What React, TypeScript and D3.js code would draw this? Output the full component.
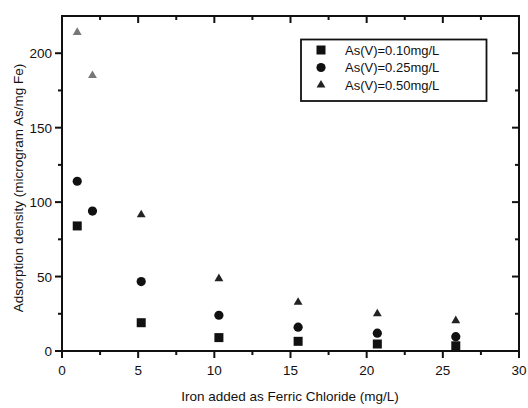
import { useEffect, useRef } from 'react';
import * as d3 from 'd3';

const IRON = [1, 2, 5.2, 10.3, 15.5, 20.7, 25.85];
const AS_010 = [84, null, 19, 9, 6.5, 4.7, 3.5];
const AS_025 = [114, 94, 46.6, 24, 16, 12, 9.6];
const AS_050 = [214, 185, 91.5, 48.6, 32.7, 25, 20.4];
const SERIES_LABELS = ['As(V)=0.10mg/L', 'As(V)=0.25mg/L', 'As(V)=0.50mg/L'];
const X_TICKS = [0, 5, 10, 15, 20, 25, 30];
const Y_TICKS = [0, 50, 100, 150, 200];

const FONT = 'Liberation Sans, Arial, sans-serif';

export default function App() {
  const svgRef = useRef<SVGSVGElement>(null);

  useEffect(() => {
    if (!svgRef.current) return;
    const W = 528;
    const H = 408;
    const M = { top: 16, right: 9, bottom: 57, left: 62 };

    const svg = d3.select(svgRef.current);
    svg.selectAll('*').remove();

    const x = d3.scaleLinear().domain([0, 30]).range([M.left, W - M.right]);
    const y = d3.scaleLinear().domain([0, 225]).range([H - M.bottom, M.top]);

    const x0 = x(0), x1 = x(30), y0 = y(0), y1 = y(225);

    // frame
    svg.append('rect')
      .attr('x', x0).attr('y', y1)
      .attr('width', x1 - x0).attr('height', y0 - y1)
      .attr('fill', 'none').attr('stroke', '#111').attr('stroke-width', 2);

    const xMinor = d3.range(2.5, 30, 5);
    const yMinor = d3.range(25, 225, 50);
    const ticks = svg.append('g').attr('stroke', '#111').attr('stroke-width', 2);

    // bottom: outward, top: inward (both pointing down)
    X_TICKS.forEach(t => {
      ticks.append('line').attr('x1', x(t)).attr('x2', x(t)).attr('y1', y0).attr('y2', y0 + 7);
      ticks.append('line').attr('x1', x(t)).attr('x2', x(t)).attr('y1', y1).attr('y2', y1 + 7);
    });
    xMinor.forEach(t => {
      ticks.append('line').attr('x1', x(t)).attr('x2', x(t)).attr('y1', y0).attr('y2', y0 + 4);
      ticks.append('line').attr('x1', x(t)).attr('x2', x(t)).attr('y1', y1).attr('y2', y1 + 4);
    });
    // left: outward, right: inward (both pointing left)
    Y_TICKS.forEach(t => {
      ticks.append('line').attr('x1', x0 - 7).attr('x2', x0).attr('y1', y(t)).attr('y2', y(t));
      ticks.append('line').attr('x1', x1 - 7).attr('x2', x1).attr('y1', y(t)).attr('y2', y(t));
    });
    yMinor.forEach(t => {
      ticks.append('line').attr('x1', x0 - 4).attr('x2', x0).attr('y1', y(t)).attr('y2', y(t));
      ticks.append('line').attr('x1', x1 - 4).attr('x2', x1).attr('y1', y(t)).attr('y2', y(t));
    });

    // tick labels
    svg.append('g').selectAll('text').data(X_TICKS).join('text')
      .attr('x', d => x(d)).attr('y', y0 + 24)
      .attr('text-anchor', 'middle')
      .attr('font-family', FONT).attr('font-size', 13.5).attr('fill', '#111')
      .text(d => d);
    svg.append('g').selectAll('text').data(Y_TICKS).join('text')
      .attr('x', x0 - 10).attr('y', d => y(d) + 5)
      .attr('text-anchor', 'end')
      .attr('font-family', FONT).attr('font-size', 13.5).attr('fill', '#111')
      .text(d => d);

    // axis titles
    svg.append('text')
      .attr('x', 290).attr('y', 401)
      .attr('text-anchor', 'middle')
      .attr('font-family', FONT).attr('font-size', 13.5).attr('fill', '#111')
      .text('Iron added as Ferric Chloride (mg/L)');
    svg.append('text')
      .attr('transform', `translate(23,188) rotate(-90)`)
      .attr('text-anchor', 'middle')
      .attr('font-family', FONT).attr('font-size', 13.5).attr('fill', '#111')
      .text('Adsorption density (microgram As/mg Fe)');

    // markers
    const drawSquare = (g: any, cx: number, cy: number) =>
      g.append('rect').attr('x', cx - 4.5).attr('y', cy - 4.5).attr('width', 9).attr('height', 9).attr('fill', '#111');
    const drawCircle = (g: any, cx: number, cy: number) =>
      g.append('circle').attr('cx', cx).attr('cy', cy).attr('r', 4.6).attr('fill', '#111');
    const tri = d3.symbol().type(d3.symbolTriangle).size(34);
    const drawTriangle = (g: any, cx: number, cy: number, fill = '#222') =>
      g.append('path').attr('d', tri()).attr('transform', `translate(${cx},${cy})`).attr('fill', fill);

    const pts = svg.append('g');
    IRON.forEach((v, i) => {
      if (AS_010[i] != null) drawSquare(pts, x(v), y(AS_010[i] as number));
      drawCircle(pts, x(v), y(AS_025[i]));
      drawTriangle(pts, x(v), y(AS_050[i]), AS_050[i] > 150 ? '#777' : '#222');
    });

    // legend
    const lg = svg.append('g');
    lg.append('rect')
      .attr('x', 301).attr('y', 39.5).attr('width', 185.5).attr('height', 61.5)
      .attr('fill', 'white').attr('stroke', '#111').attr('stroke-width', 1.8);
    const drawers = [drawSquare, drawCircle, drawTriangle];
    SERIES_LABELS.forEach((label, i) => {
      const ly = 50 + i * 17.5;
      drawers[i](lg, 321, ly);
      lg.append('text')
        .attr('x', 345).attr('y', ly + 4.5)
        .attr('font-family', FONT).attr('font-size', 13).attr('fill', '#111')
        .text(label);
    });
  }, []);

  return (
    <svg
      ref={svgRef}
      width={528}
      height={408}
      style={{ position: 'absolute', left: 0, top: 0, display: 'block', background: 'white' }}
    />
  );
}
